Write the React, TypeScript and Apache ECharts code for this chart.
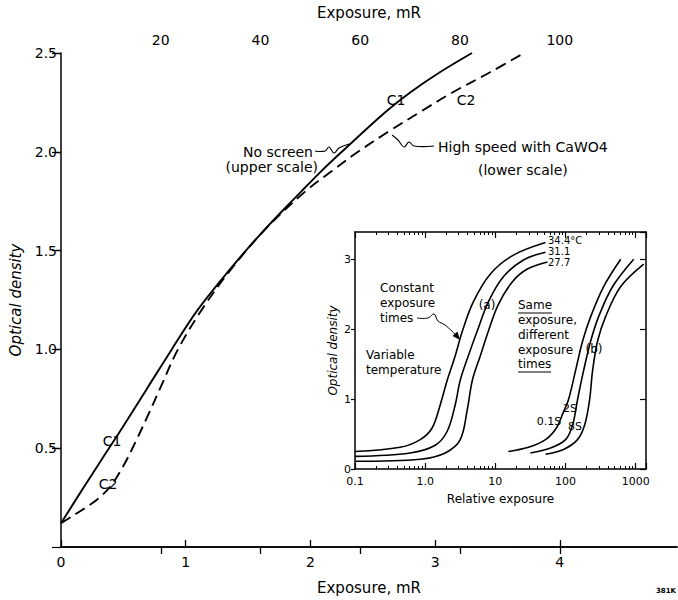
import React, { useEffect, useRef } from "react";
import * as echarts from "echarts";

// ---------- main chart ----------
const lowerExposureMax = 4.94; // mR (lower scale)
const upperExposureMax = 123.5; // mR (upper scale)
const upperTicks = [20, 40, 60, 80, 100];
const densityMax = 2.5;

// C1: no screen (upper scale, mR)
const c1Exposure = [0, 4.5, 8.6, 12.2, 17.2, 22.2, 27.4, 33.7, 40.6, 48.2, 52.1, 56.3, 65.0, 70.0, 75.8, 82.4];
const c1Density = [0.12, 0.3, 0.46, 0.6, 0.8, 1.0, 1.2, 1.4, 1.6, 1.8, 1.9, 2.0, 2.2, 2.3, 2.4, 2.5];

// C2: high speed with CaWO4 (lower scale, mR)
const c2Exposure = [0, 0.1, 0.2, 0.3, 0.4, 0.5, 0.6, 0.7, 0.8, 0.938, 1.128, 1.357, 1.626, 1.96, 2.167, 2.382, 2.621, 2.876, 3.139, 3.434, 3.713];
const c2Density = [0.12, 0.16, 0.2, 0.245, 0.31, 0.41, 0.535, 0.67, 0.81, 1.0, 1.2, 1.4, 1.6, 1.8, 1.9, 2.0, 2.1, 2.2, 2.3, 2.4, 2.5];

// ---------- inset ----------
const insetXMin = 0.1;
const insetXMax = 1400;
const insetYMax = 3.39;
const insetMinorTicks = [
  0.2, 0.3, 0.4, 0.5, 0.6, 0.7, 0.8, 0.9,
  2, 3, 4, 5, 6, 7, 8, 9,
  20, 30, 40, 50, 60, 70, 80, 90,
  200, 300, 400, 500, 600, 700, 800, 900,
];

// (a) constant exposure times, variable temperature
const a344X = [0.1, 0.44, 0.85, 1.26, 1.64, 2.06, 2.68, 3.38, 4.85, 8.49, 18.1, 51.8];
const a344D = [0.25, 0.31, 0.42, 0.59, 0.92, 1.27, 1.62, 1.97, 2.39, 2.79, 3.06, 3.24];
const a311X = [0.1, 0.61, 1.39, 2.06, 2.68, 3.16, 4.12, 5.5, 7.94, 13.0, 25.1, 51.8];
const a311D = [0.18, 0.23, 0.34, 0.54, 0.92, 1.27, 1.62, 1.97, 2.39, 2.75, 2.99, 3.1];
const a277X = [0.1, 0.85, 1.93, 3.16, 3.98, 4.7, 6.11, 7.94, 11.0, 17.5, 28.6, 55.3];
const a277D = [0.11, 0.14, 0.23, 0.42, 0.85, 1.27, 1.62, 1.97, 2.35, 2.68, 2.86, 2.96];

// (b) same exposure, different exposure times
const b01X = [15.3, 29.6, 51.8, 74.4, 93.6, 110, 139, 175, 228, 349, 611];
const b01D = [0.25, 0.31, 0.42, 0.59, 0.82, 0.99, 1.41, 1.83, 2.18, 2.61, 3.0];
const b2X = [31.6, 61.1, 100, 126, 148, 181, 228, 296, 469, 935];
const b2D = [0.23, 0.3, 0.42, 0.63, 0.99, 1.41, 1.83, 2.18, 2.61, 3.0];
const b8X = [51.8, 93.6, 148, 187, 220, 243, 286, 372, 611, 1300];
const b8D = [0.21, 0.28, 0.42, 0.63, 0.99, 1.41, 1.83, 2.18, 2.61, 2.93];

const FONT = "DejaVu Sans";
const zip = (xs: number[], ys: number[]) => xs.map((x, i) => [x, ys[i]]);

const txt = (x: number, y: number, text: string, size = 12, align = "left", extra: any = {}) => ({
  type: "text",
  x,
  y,
  silent: true,
  style: {
    text,
    fill: "#000",
    font: `${extra.fontWeight || "normal"} ${size}px "${FONT}"`,
    textAlign: align,
    textVerticalAlign: "middle",
  },
});
const pl = (points: number[][], smooth = 0.4, w = 1.1) => ({
  type: "polyline",
  silent: true,
  shape: { points, smooth },
  style: { stroke: "#000", lineWidth: w, fill: "none" },
});

export default function App() {
  const ref = useRef<HTMLDivElement>(null);
  useEffect(() => {
    document.body.style.margin = "0";
    const chart = echarts.init(ref.current!, null, { renderer: "svg" });
    const axisLine = { show: true, lineStyle: { color: "#000", width: 1.5 } };
    const lbl = (size: number) => ({ color: "#000", fontFamily: FONT, fontSize: size });
    const isPow10 = (v: number) => Math.abs(Math.log10(v) - Math.round(Math.log10(v))) < 1e-6;
    const logLabel = (v: number) => {
      if (!isPow10(v)) return "";
      const p = Math.round(Math.log10(v));
      if (p === -1) return "0.1";
      if (p === 0) return "1.0";
      return String(Math.pow(10, p));
    };
    const curve = (name: string, xs: number[], ys: number[], xi: number, yi: number, dashed = false, w = 1.6) => ({
      name,
      type: "line",
      xAxisIndex: xi,
      yAxisIndex: yi,
      data: zip(xs, ys),
      showSymbol: false,
      symbol: "none",
      smooth: 0.35,
      clip: true,
      lineStyle: { color: "#000", width: w, type: dashed ? [11, 6] : "solid" },
    });

    chart.setOption({
      animation: false,
      backgroundColor: "#fff",
      grid: [
        { left: 61, top: 52, width: 616, height: 500 },
        { left: 355, top: 232, width: 291, height: 237 },
      ],
      xAxis: [
        {
          gridIndex: 0,
          type: "value",
          position: "bottom",
          min: 0,
          max: lowerExposureMax,
          interval: 1,
          axisLine,
          axisTick: { show: true, inside: true, length: 7, lineStyle: { color: "#000", width: 1.3 } },
          axisLabel: { ...lbl(14), margin: 8, showMaxLabel: false, formatter: (v: number) => (Number.isInteger(v) ? String(v) : "") },
          splitLine: { show: false },
          name: "Exposure, mR",
          nameLocation: "middle",
          nameGap: 33,
          nameTextStyle: lbl(15),
        },
        {
          gridIndex: 0,
          type: "value",
          position: "top",
          min: 0,
          max: upperExposureMax,
          interval: 20,
          axisLine,
          axisTick: { show: true, inside: true, length: 7, customValues: upperTicks, lineStyle: { color: "#000", width: 1.3 } },
          axisLabel: {
            ...lbl(14),
            margin: 6,
            showMinLabel: false,
            showMaxLabel: false,
            formatter: (v: number) => (v > 0 && v <= 100 && v % 20 === 0 ? String(v) : ""),
          },
          splitLine: { show: false },
          name: "Exposure, mR",
          nameLocation: "middle",
          nameGap: 33,
          nameTextStyle: lbl(15),
        },
        {
          gridIndex: 1,
          type: "log",
          logBase: 10,
          position: "bottom",
          min: insetXMin,
          max: insetXMax,
          axisLine,
          axisTick: { show: true, inside: true, length: 6, lineStyle: { color: "#000", width: 1.2 } },
          axisLabel: { ...lbl(11), margin: 7, formatter: logLabel },
          splitLine: { show: false },
          name: "Relative exposure",
          nameLocation: "middle",
          nameGap: 24,
          nameTextStyle: lbl(12),
        },
        {
          gridIndex: 1,
          type: "log",
          logBase: 10,
          position: "bottom",
          min: insetXMin,
          max: insetXMax,
          axisLine: { show: false },
          axisTick: { show: true, inside: true, length: 3, customValues: insetMinorTicks, lineStyle: { color: "#000", width: 1 } },
          axisLabel: { show: false },
          splitLine: { show: false },
        },
        {
          gridIndex: 1,
          type: "log",
          logBase: 10,
          position: "top",
          min: insetXMin,
          max: insetXMax,
          axisLine,
          axisTick: { show: true, inside: true, length: 6, lineStyle: { color: "#000", width: 1.2 } },
          axisLabel: { show: false },
          splitLine: { show: false },
        },
        {
          gridIndex: 1,
          type: "log",
          logBase: 10,
          position: "top",
          min: insetXMin,
          max: insetXMax,
          axisLine: { show: false },
          axisTick: { show: true, inside: true, length: 3, customValues: insetMinorTicks, lineStyle: { color: "#000", width: 1 } },
          axisLabel: { show: false },
          splitLine: { show: false },
        },
      ],
      yAxis: [
        {
          gridIndex: 0,
          type: "value",
          position: "left",
          min: 0,
          max: densityMax,
          interval: 0.5,
          axisLine,
          axisTick: { show: true, inside: false, length: 5, lineStyle: { color: "#000", width: 1.3 } },
          axisLabel: { ...lbl(14), margin: 4, showMinLabel: false, formatter: (v: number) => v.toFixed(1) },
          splitLine: { show: false },
          name: "Optical density",
          nameLocation: "middle",
          nameGap: 29,
          nameTextStyle: { ...lbl(15), fontStyle: "italic" },
        },
        {
          gridIndex: 0,
          type: "value",
          position: "right",
          min: 0,
          max: densityMax,
          interval: 0.5,
          axisLine: { show: false },
          axisTick: { show: true, inside: true, length: 9, lineStyle: { color: "#000", width: 1.2 } },
          axisLabel: { show: false },
          splitLine: { show: false },
        },
        {
          gridIndex: 1,
          type: "value",
          position: "left",
          min: 0,
          max: insetYMax,
          interval: 1,
          axisLine,
          axisTick: { show: true, inside: false, length: 4, lineStyle: { color: "#000", width: 1.2 } },
          axisLabel: { ...lbl(11), margin: 4, showMaxLabel: false, formatter: (v: number) => (Number.isInteger(v) ? String(v) : "") },
          splitLine: { show: false },
          name: "Optical density",
          nameLocation: "middle",
          nameGap: 16,
          nameTextStyle: { ...lbl(12), fontStyle: "italic" },
        },
        {
          gridIndex: 1,
          type: "value",
          position: "right",
          min: 0,
          max: insetYMax,
          interval: 1,
          axisLine,
          axisTick: { show: true, inside: true, length: 6, lineStyle: { color: "#000", width: 1.2 } },
          axisLabel: { show: false },
          splitLine: { show: false },
        },
      ],
      series: [
        curve("C1 no screen", c1Exposure, c1Density, 1, 0, false, 1.9),
        curve("C2 CaWO4", c2Exposure, c2Density, 0, 0, true, 1.9),
        curve("34.4°C", a344X, a344D, 2, 2),
        curve("31.1", a311X, a311D, 2, 2),
        curve("27.7", a277X, a277D, 2, 2),
        curve("0.1S", b01X, b01D, 2, 2),
        curve("2S", b2X, b2D, 2, 2),
        curve("8S", b8X, b8D, 2, 2),
      ],
      graphic: [
        txt(112, 441, "C1", 14, "center"),
        txt(108, 484, "C2", 14, "center"),
        txt(396, 100, "C1", 14, "center"),
        txt(466, 100, "C2", 14, "center"),
        txt(313, 152, "No screen", 14, "right"),
        txt(318, 167, "(upper scale)", 14, "right"),
        pl([[315, 151], [325, 151], [329, 147], [334, 153], [339, 148], [349, 144]]),
        txt(438, 147, "High speed with CaWO4", 14, "left"),
        txt(478, 170, "(lower scale)", 14, "left"),
        pl([[434, 146], [414, 146], [409, 142], [404, 147], [398, 140], [392, 135]]),
        // inset annotations
        txt(548, 240, "34.4°C", 10, "left"),
        txt(548, 251, "31.1", 10, "left"),
        txt(548, 262, "27.7", 10, "left"),
        txt(487, 305, "(a)", 12, "center"),
        txt(380, 288, "Constant", 12, "left"),
        txt(380, 303, "exposure", 12, "left"),
        txt(380, 318, "times", 12, "left"),
        pl([[417, 318], [428, 318], [434, 314], [438, 321], [445, 325], [456, 335]], 0.4, 1),
        {
          type: "polygon",
          silent: true,
          shape: { points: [[460, 340], [452.5, 336], [457.5, 331.5]] },
          style: { fill: "#000" },
        },
        txt(366, 355, "Variable", 12, "left"),
        txt(366, 370, "temperature", 12, "left"),
        txt(518, 305, "Same", 12, "left"),
        { type: "line", silent: true, shape: { x1: 518, y1: 313, x2: 552, y2: 313 }, style: { stroke: "#000", lineWidth: 1 } },
        txt(518, 320, "exposure,", 12, "left"),
        txt(518, 335, "different", 12, "left"),
        txt(518, 350, "exposure", 12, "left"),
        txt(594, 349, "(b)", 12, "center"),
        txt(518, 364, "times", 12, "left"),
        { type: "line", silent: true, shape: { x1: 518, y1: 372, x2: 551, y2: 372 }, style: { stroke: "#000", lineWidth: 1 } },
        txt(549, 421, "0.1S", 11, "center"),
        txt(570, 408, "2S", 11, "center"),
        txt(575, 426, "8S", 11, "center"),
        txt(676, 591, "381K", 7, "right", { fontWeight: "bold" }),
      ],
    });
    return () => chart.dispose();
  }, []);
  return <div ref={ref} style={{ position: "fixed", left: 0, top: 0, width: 678, height: 600 }} />;
}
